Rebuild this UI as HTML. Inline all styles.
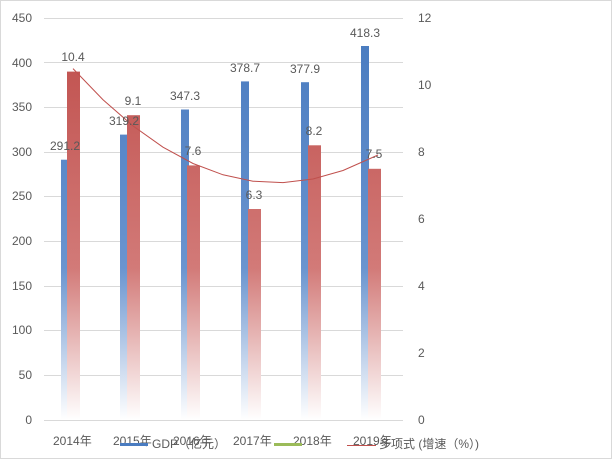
<!DOCTYPE html>
<html><head><meta charset="utf-8"><style>
body{margin:0;background:#fff}
svg text{font-family:"Liberation Sans","Noto Sans CJK SC",sans-serif;font-size:12px;fill:#595959}
</style></head><body>
<svg width="613" height="460" xmlns="http://www.w3.org/2000/svg">
<defs>
<linearGradient id="gb" gradientUnits="userSpaceOnUse" x1="0" y1="40" x2="0" y2="420"><stop offset="0" stop-color="#4a7cc0"/><stop offset="0.6" stop-color="#6a94cf"/><stop offset="1" stop-color="#ffffff"/></linearGradient>
<linearGradient id="gr" gradientUnits="userSpaceOnUse" x1="0" y1="40" x2="0" y2="420"><stop offset="0" stop-color="#c0504d"/><stop offset="0.6" stop-color="#d27a78"/><stop offset="1" stop-color="#ffffff"/></linearGradient>
</defs>
<rect x="0.5" y="0.5" width="611" height="458" fill="none" stroke="#d9d9d9"/>
<g stroke="#d9d9d9" stroke-width="1">
<line x1="44" x2="403" y1="18.5" y2="18.5"/><line x1="44" x2="403" y1="62.5" y2="62.5"/>
<line x1="44" x2="403" y1="107.5" y2="107.5"/><line x1="44" x2="403" y1="152.5" y2="152.5"/>
<line x1="44" x2="403" y1="196.5" y2="196.5"/><line x1="44" x2="403" y1="241.5" y2="241.5"/>
<line x1="44" x2="403" y1="286.5" y2="286.5"/><line x1="44" x2="403" y1="330.5" y2="330.5"/>
<line x1="44" x2="403" y1="375.5" y2="375.5"/><line x1="44" x2="403" y1="420.5" y2="420.5"/>
</g>
<g text-anchor="end">
<text x="32" y="22">450</text><text x="32" y="67">400</text><text x="32" y="111">350</text>
<text x="32" y="156">300</text><text x="32" y="200">250</text><text x="32" y="245">200</text>
<text x="32" y="290">150</text><text x="32" y="334">100</text><text x="32" y="379">50</text><text x="32" y="424">0</text>
</g>
<g>
<text x="418" y="22">12</text><text x="418" y="89">10</text><text x="418" y="156">8</text>
<text x="418" y="223">6</text><text x="418" y="290">4</text><text x="418" y="357">2</text><text x="418" y="424">0</text>
</g>
<rect x="61" y="159.7" width="8" height="260.3" fill="url(#gb)"/>
<rect x="120" y="134.6" width="8" height="285.4" fill="url(#gb)"/>
<rect x="181" y="109.5" width="8" height="310.5" fill="url(#gb)"/>
<rect x="241" y="81.4" width="8" height="338.6" fill="url(#gb)"/>
<rect x="301" y="82.2" width="8" height="337.8" fill="url(#gb)"/>
<rect x="361" y="46" width="8" height="374" fill="url(#gb)"/>
<rect x="67" y="71.6" width="13" height="348.4" fill="url(#gr)"/>
<rect x="127" y="115.2" width="13" height="304.8" fill="url(#gr)"/>
<rect x="187" y="165.4" width="13" height="254.6" fill="url(#gr)"/>
<rect x="248" y="209" width="13" height="211" fill="url(#gr)"/>
<rect x="308" y="145.3" width="13" height="274.7" fill="url(#gr)"/>
<rect x="368" y="168.8" width="13" height="251.2" fill="url(#gr)"/>
<polyline fill="none" stroke="#c0504d" stroke-width="1" points="73,68.6 103,99.7 133,125.9 163,147.2 193,163.5 223,174.8 253,181.2 283,182.6 313,179 343,170.5 378,155"/>
<g text-anchor="middle">
<text x="65" y="150">291.2</text><text x="124" y="125">319.2</text><text x="185" y="100">347.3</text>
<text x="245" y="72">378.7</text><text x="305" y="73">377.9</text><text x="365" y="37">418.3</text>
<text x="73" y="61">10.4</text><text x="133" y="105">9.1</text><text x="193" y="155">7.6</text>
<text x="254" y="199">6.3</text><text x="314" y="135">8.2</text><text x="374" y="158">7.5</text>
</g>
<g>
<text x="53" y="445">2014年</text><text x="113" y="445">2015年</text><text x="173" y="445">2016年</text>
<text x="233" y="445">2017年</text><text x="293" y="445">2018年</text><text x="353" y="445">2019年</text>
</g>
<rect x="120" y="443" width="28" height="3" fill="#4a7cc0"/>
<text x="152" y="448">GDP（亿元）</text>
<rect x="274" y="443" width="28" height="3" fill="#9bbb59"/>
<line x1="347" x2="376" y1="445.5" y2="445.5" stroke="#c0504d"/>
<text x="379" y="448">多项式 (增速（%）)</text>
</svg>
</body></html>
